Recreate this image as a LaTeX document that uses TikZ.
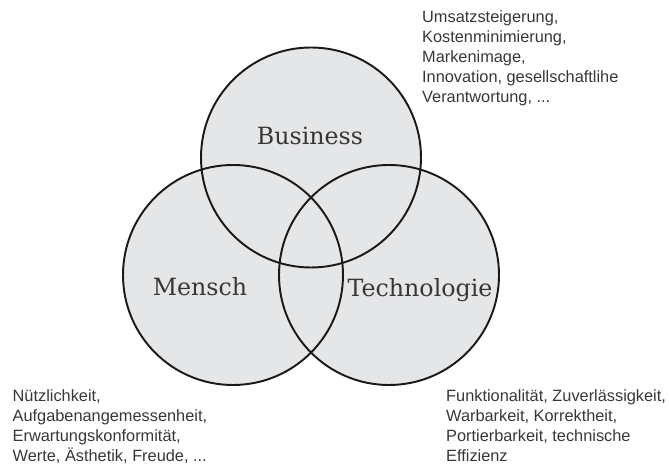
\documentclass[tikz,border=0pt]{standalone}
\usepackage{fontspec}
\setmainfont{Liberation Sans}
\newfontfamily\slabfont{DejaVu Serif}
\usepackage{tikz}
\definecolor{venngray}{RGB}{229,230,232}
\definecolor{txtgray}{RGB}{55,55,55}

\begin{document}
\begin{tikzpicture}[line cap=round,line join=round,x=1.0cm,y=1.0cm,
  ring/.style={line width=2.2pt,color=black!90},
  lbl/.style={anchor=base,inner sep=0pt,color=txtgray,font=\slabfont\fontsize{27}{30}\selectfont},
  txt/.style={anchor=base west,inner sep=0pt,align=left,color=txtgray,font=\fontsize{18.6}{22.76}\selectfont}]
\useasboundingbox (0.,0.) rectangle (26.76,18.8);
%\draw [color=black, xstep=1.0cm,ystep=1.0cm] (0.,0.) grid (26.76,18.8);
\fill [color=venngray] (12.44,12.5) circle (4.4);
\fill [color=venngray] (9.32,7.8) circle (4.4);
\fill [color=venngray] (15.56,7.8) circle (4.4);
\draw [ring] (12.44,12.5) circle (4.4);
\draw [ring] (9.32,7.8) circle (4.4);
\draw [ring] (15.56,7.8) circle (4.4);
\draw (12.4,13.) node[lbl] (business) {Business};
\draw (8.,6.96) node[lbl] (mensch) {Mensch};
\draw (16.8,6.93) node[lbl] (technologie) {Technologie};
% base west = baseline of the last line
\draw (16.88,14.69) node[txt] (ziele) {Umsatzsteigerung,\\Kostenminimierung,\\Markenimage,\\Innovation, gesellschaftlihe\\Verantwortung, ...};
\draw (0.5,0.33) node[txt] (nutzen) {Nützlichkeit,\\Aufgabenangemessenheit,\\Erwartungskonformität,\\Werte, Ästhetik, Freude, ...};
\draw (17.84,0.33) node[txt] (qualitaet) {Funktionalität, Zuverlässigkeit,\\Warbarkeit, Korrektheit,\\Portierbarkeit, technische\\Effizienz};
\end{tikzpicture}
\end{document}
